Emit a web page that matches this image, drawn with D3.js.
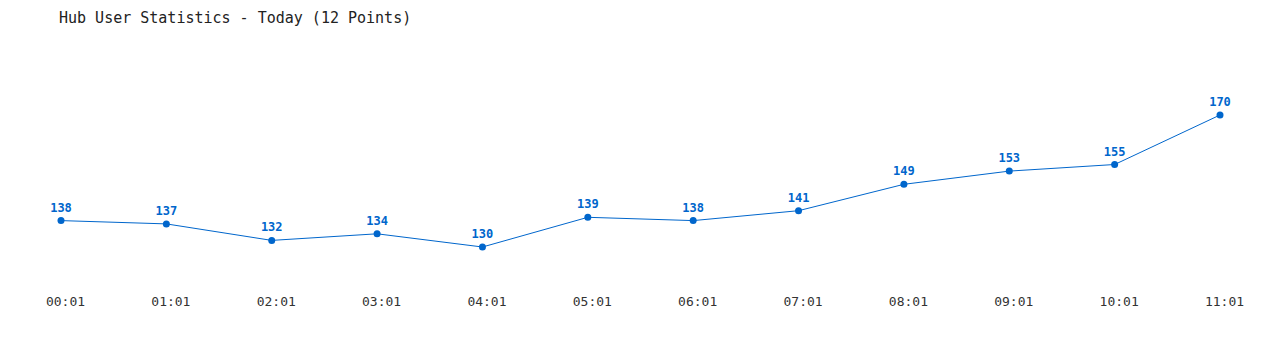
<!DOCTYPE html>
<html lang="en">
  <head>
    <meta charset="UTF-8" />
    <title>Hub User Statistics</title>
    <style>
      body { margin: 0; background: #fff; }
      text { font-family: "DejaVu Sans Mono", "Liberation Mono", monospace; }
    </style>
  </head>
  <body>
    <div class="lineChart"></div>
    <script src="https://d3js.org/d3.v7.min.js"></script>
    <script>
      // 資料
      const times = ["00:01", "01:01", "02:01", "03:01", "04:01", "05:01", "06:01", "07:01", "08:01", "09:01", "10:01", "11:01"];
      const users = [138, 137, 132, 134, 130, 139, 138, 141, 149, 153, 155, 170];

      const svgWidth = 1280,
        svgHeight = 350,
        color = "#0066cc";

      const svg = d3
        .select(".lineChart")
        .append("svg")
        .attr("width", svgWidth)
        .attr("height", svgHeight);

      // 標題
      svg
        .append("text")
        .attr("x", 59)
        .attr("y", 23)
        .style("font-size", "15px")
        .style("fill", "#222")
        .text("Hub User Statistics - Today (12 Points)");

      // 比例尺
      const xScale = d3.scalePoint().domain(times).range([61, 1220]);
      const yScale = d3
        .scaleLinear()
        .domain([d3.min(users), d3.max(users)])
        .range([247, 115]);

      // X軸標籤
      const xAxis = d3.axisBottom(xScale).tickSize(0).tickPadding(0);
      svg
        .append("g")
        .attr("transform", "translate(4, 297)")
        .call(xAxis)
        .call((g) => g.select(".domain").remove())
        .selectAll("text")
        .attr("dy", "0.71em")
        .style("font-family", '"DejaVu Sans Mono", monospace')
        .style("font-size", "13px")
        .style("fill", "#333");

      // 折線
      const line = d3
        .line()
        .x((d, i) => xScale(times[i]))
        .y((d) => yScale(d));

      svg
        .append("path")
        .datum(users)
        .attr("d", line)
        .attr("fill", "none")
        .attr("stroke", color)
        .attr("stroke-width", 1);

      // 圓點
      svg
        .append("g")
        .selectAll("circle")
        .data(users)
        .join("circle")
        .attr("cx", (d, i) => xScale(times[i]))
        .attr("cy", (d) => yScale(d))
        .attr("r", 3.5)
        .attr("fill", color);

      // 數值標籤
      svg
        .append("g")
        .selectAll("text")
        .data(users)
        .join("text")
        .attr("x", (d, i) => xScale(times[i]))
        .attr("y", (d) => yScale(d) - 9)
        .attr("text-anchor", "middle")
        .style("font-size", "12px")
        .style("font-weight", "bold")
        .style("fill", color)
        .text((d) => d);
    </script>
  </body>
</html>
